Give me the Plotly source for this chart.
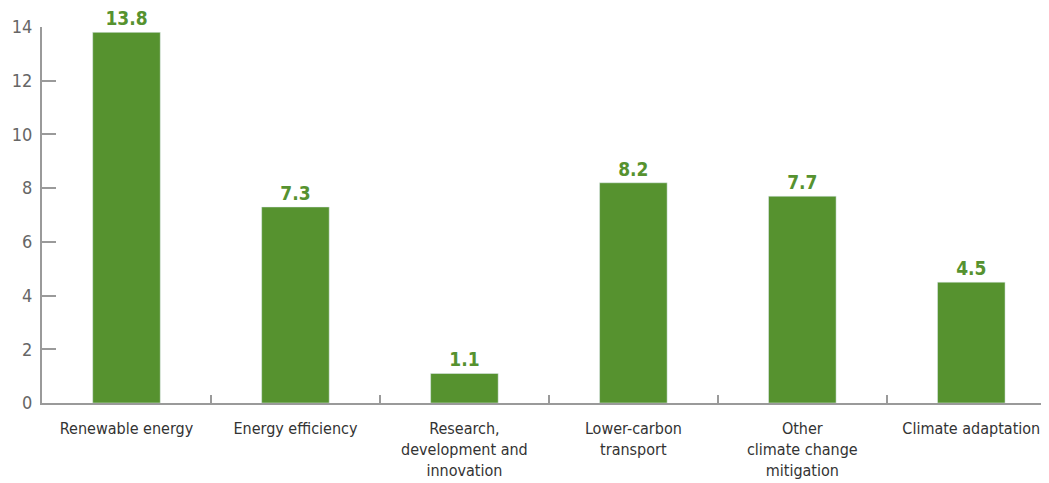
import plotly.graph_objects as go

categories = ["Renewable energy", "Energy efficiency", "Research,<br>development and<br>innovation",
              "Lower-carbon<br>transport", "Other<br>climate change<br>mitigation", "Climate adaptation"]
values = [13.8, 7.3, 1.1, 8.2, 7.7, 4.5]
y_ticks = [0, 2, 4, 6, 8, 10, 12, 14]

green = "#56922f"
font = "DejaVu Sans Condensed, Liberation Sans Narrow, sans-serif"

fig = go.Figure(go.Bar(
    x=categories, y=values, marker_color=green, width=0.4,
    text=[f"{v:.1f}" for v in values], textposition="outside", cliponaxis=False,
    textfont=dict(family=font, size=19, color=green, weight="bold"),
))
fig.update_layout(
    width=1041, height=475, plot_bgcolor="white", paper_bgcolor="white",
    margin=dict(l=34, r=0, t=19, b=80, autoexpand=False), showlegend=False, bargap=0.6,
    font=dict(family=font),
)
fig.update_yaxes(range=[0, 14], tickvals=y_ticks, showgrid=False, zeroline=False, automargin=False,
                 showline=True, linecolor="#9a9a9a", linewidth=2, ticks="inside", ticklen=14,
                 tickcolor="#9a9a9a", tickwidth=1.5,
                 tickfont=dict(family=font, size=18, color="#666666"), ticklabelstandoff=4)
fig.update_xaxes(range=[-0.5, 5.46], showgrid=False, showline=True, linecolor="#9a9a9a", linewidth=2,
                 automargin=False,
                 ticks="inside", ticklen=8, tickcolor="#9a9a9a", tickwidth=1.5,
                 tickson="boundaries", ticklabelstandoff=10,
                 tickfont=dict(family=font, size=16, color="#333333"))
fig.write_html("out.html")
